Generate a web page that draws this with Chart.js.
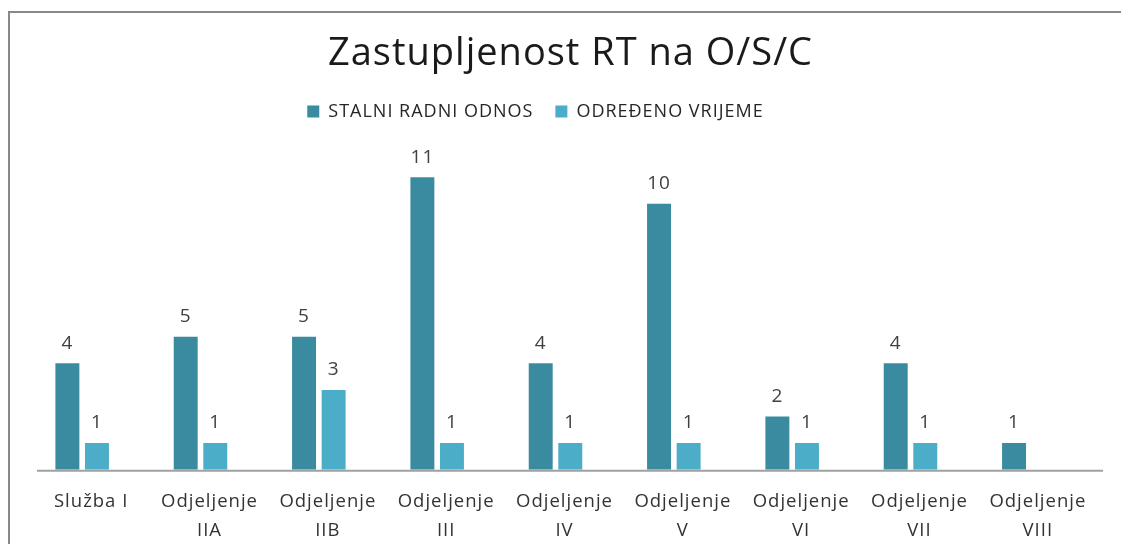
<!DOCTYPE html>
<html>
<head>
<meta charset="utf-8">
<script src="https://cdn.jsdelivr.net/npm/chart.js@4/dist/chart.umd.min.js"></script>
<style>
	html,body{margin:0;padding:0;background:#fff;overflow:hidden;width:1121px;height:544px;}
	#okvir{position:absolute;left:8px;top:11px;width:1200px;height:600px;border-left:2px solid #888;border-top:2px solid #888;}
	#cont{position:absolute;left:0;top:0;width:1121px;height:544px;}
</style>
</head>
<body>
<div id="okvir"></div>
<div id="cont"><canvas id="grafik"></canvas></div>
<script>
var kategorije=[["Služba I"],["Odjeljenje","IIA"],["Odjeljenje","IIB"],["Odjeljenje","III"],["Odjeljenje","IV"],["Odjeljenje","V"],["Odjeljenje","VI"],["Odjeljenje","VII"],["Odjeljenje","VIII"]];
var stalni=[4,5,5,11,4,10,2,4,1];
var odredjeno=[1,1,3,1,1,1,1,1,null];
var serije=["STALNI RADNI ODNOS","ODREĐENO VRIJEME"];
var boje=["#3a8ba0","#4badc7"];

// razmak slova (font u originalu je siri)
var razmak={
	id:"razmak",
	beforeInit:function(chart){
		var fit=chart.legend.fit;
		chart.legend.fit=function(){
			fit.call(this);
			this.height+=20;
		}
	},
	beforeUpdate:function(chart){chart.ctx.letterSpacing="1px";},
	beforeDraw:function(chart){chart.ctx.letterSpacing="1px";},
	afterLayout:function(chart){
		chart.titleBlock.left+=15;chart.titleBlock.right+=15;
		chart.legend.left-=20;chart.legend.right-=20;
	}
};

// os i vrijednosti iznad stubova
var vrijednosti={
	id:"vrijednosti",
	afterDatasetsDraw:function(chart){
		var ctx=chart.ctx;
		var y0=chart.scales.y.getPixelForValue(0);
		ctx.save();
		ctx.strokeStyle="#a0a0a0";
		ctx.lineWidth=2;
		ctx.beginPath();
		ctx.moveTo(chart.chartArea.left+14,y0+1);
		ctx.lineTo(chart.chartArea.right+15,y0+1);
		ctx.stroke();
		ctx.font="19px 'Open Sans'";
		ctx.fillStyle="#404040";
		ctx.textAlign="center";
		ctx.textBaseline="middle";
		chart.data.datasets.forEach(function(ds,i){
			chart.getDatasetMeta(i).data.forEach(function(bar,j){
				if(ds.data[j]==null) return;
				ctx.fillText(ds.data[j],bar.x,bar.y-20);
			})
		})
		ctx.restore();
	}
};

new Chart(document.getElementById("grafik"),{
	type:"bar",
	data:{
		labels:kategorije,
		datasets:[
			{label:serije[0],data:stalni,backgroundColor:boje[0],categoryPercentage:0.5,barPercentage:0.81},
			{label:serije[1],data:odredjeno,backgroundColor:boje[1],categoryPercentage:0.5,barPercentage:0.81}
		]
	},
	options:{
		responsive:true,
		maintainAspectRatio:false,
		animation:false,
		layout:{padding:{left:23,right:33,top:31,bottom:-11}},
		plugins:{
			title:{display:true,text:"Zastupljenost RT na O/S/C",color:"#1a1a1a",font:{family:"'Open Sans'",size:38,weight:"normal"},padding:{top:0,bottom:4}},
			legend:{
				labels:{boxWidth:12,boxHeight:12,color:"#262626",font:{family:"'Open Sans'",size:18},padding:22}
			},
			tooltip:{enabled:false}
		},
		scales:{
			x:{
				grid:{display:false},
				border:{display:false},
				ticks:{color:"#333",font:{family:"'Open Sans'",size:18.5,lineHeight:1.55},padding:10,labelOffset:9,maxRotation:0,autoSkip:false}
			},
			y:{display:false,min:0,max:12}
		}
	},
	plugins:[razmak,vrijednosti]
});
</script>
</body>
</html>
